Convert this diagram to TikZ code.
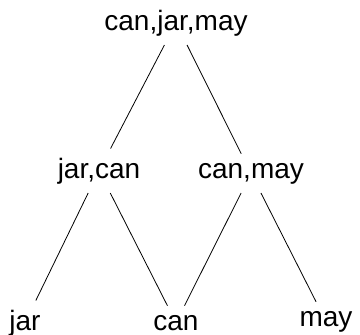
\documentclass[tikz,border=0pt]{standalone}
\usepackage{fontspec}
\setmainfont{Liberation Sans}
\begin{document}
\begin{tikzpicture}[x=1pt,y=-1pt,
  word/.style={anchor=base,inner xsep=4pt,inner ysep=9pt,font=\fontsize{28}{34}\selectfont},
  link/.style={line width=0.8pt,black}]
\useasboundingbox (0,0) rectangle (360,335);
% lattice of word sets
\node[word] (top) at (176,30) {can,jar,may};
\node[word] (jc) at (99,178) {jar,can};
\node[word] (cm) at (251,178) {can,may};
\node[word] (jar) at (25,330) {jar};
\node[word] (can) at (176,330) {can};
\node[word] (may) at (326,326) {may};
% edges
\draw[link] (top) -- (jc);
\draw[link] (top) -- (cm);
\draw[link] (jc) -- (jar);
\draw[link] (jc) -- (can);
\draw[link] (cm) -- (can);
\draw[link] (cm) -- (may);
\end{tikzpicture}
\end{document}
